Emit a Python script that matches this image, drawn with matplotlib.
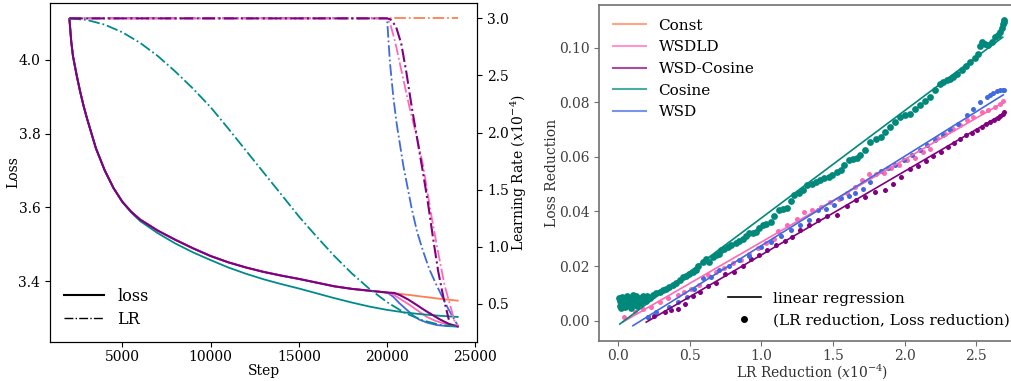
import numpy as np
import matplotlib
matplotlib.use("Agg")
import matplotlib.pyplot as plt
from matplotlib.lines import Line2D

plt.rcParams['font.family'] = 'DejaVu Serif'
plt.rcParams['mathtext.fontset'] = 'dejavuserif'

# colours
c_const = '#ff7f50'
c_wsdld = '#ff69b4'
c_wsdcos = '#800080'
c_cos = '#008b8b'
c_cos_r = '#00897b'
c_wsd = '#4169e1'

# ---------------- left panel data (steps / loss / LR in 1e-4) ----------------
steps_common = [2000, 2100, 2200, 2400, 2600, 2800, 3000, 3500, 4000, 4500, 5000, 5500, 6000,
                7000, 8000, 9000, 10000, 11000, 12000, 13000, 14000, 15000, 16000,
                17000, 18000, 19000, 20000]
loss_common = [4.11, 4.05, 4.01, 3.96, 3.915, 3.875, 3.84, 3.76, 3.70, 3.652, 3.615, 3.588, 3.567,
               3.537, 3.512, 3.489, 3.468, 3.451, 3.437, 3.425, 3.415, 3.406, 3.396,
               3.386, 3.379, 3.374, 3.369]

steps_cos = [2000, 2100, 2200, 2400, 2600, 2800, 3000, 3500, 4000, 4500, 5000, 5500, 6000,
             7000, 8000, 9000, 10000, 11000, 12000, 13000, 14000, 15000, 16000,
             17000, 18000, 19000, 20000, 21000, 22000, 23000, 24000]
loss_cos = [4.11, 4.05, 4.01, 3.96, 3.915, 3.875, 3.84, 3.76, 3.70, 3.652, 3.614, 3.586, 3.563,
            3.530, 3.502, 3.478, 3.457, 3.437, 3.42, 3.405, 3.392, 3.38, 3.367,
            3.354, 3.342, 3.331, 3.322, 3.315, 3.31, 3.306, 3.303]
lr_cos_steps = [2000, 3000, 4000, 5000, 6000, 7000, 8000, 9000, 10000, 11000, 12000, 13000,
                14000, 15000, 16000, 17000, 18000, 19000, 20000, 21000, 22000, 23000, 24000]
lr_cos = [3.0, 2.986, 2.945, 2.878, 2.786, 2.671, 2.534, 2.385, 2.222, 2.035, 1.842, 1.65,
          1.458, 1.265, 1.089, 0.92, 0.766, 0.63, 0.514, 0.42, 0.355, 0.315, 0.3]

const_tail_steps = [21000, 22000, 23000, 24000]
const_tail_loss = [3.364, 3.358, 3.352, 3.347]

wsd_tail_steps = [20340, 20700, 21120, 21500, 21850, 22300, 22810, 23400, 24000]
wsd_tail_loss = [3.358, 3.34, 3.322, 3.306, 3.295, 3.287, 3.281, 3.278, 3.277]
wsd_lr_steps = [20000, 20080, 20170, 20360, 20550, 20920, 21400, 21700, 22040, 22400, 22810,
                23450, 24000]
wsd_lr = [3.0, 2.8, 2.6, 2.3, 2.07, 1.71, 1.33, 1.13, 0.96, 0.8, 0.66, 0.46, 0.31]

wsdld_tail_steps = [20340, 20800, 21290, 21800, 22250, 22700, 23150, 23600, 24000]
wsdld_tail_loss = [3.364, 3.35, 3.335, 3.318, 3.303, 3.293, 3.286, 3.282, 3.279]
wsdld_lr_steps = [20000, 20200, 20450, 20900, 21300, 21700, 22040, 22510, 22880, 23260,
                  23820, 24000]
wsdld_lr = [3.0, 2.94, 2.8, 2.48, 2.2, 1.95, 1.71, 1.27, 0.96, 0.66, 0.35, 0.31]

wsdcos_tail_steps = [20400, 20730, 21200, 21690, 22100, 22580, 23000, 23500, 24000]
wsdcos_tail_loss = [3.368, 3.362, 3.35, 3.335, 3.322, 3.308, 3.296, 3.284, 3.277]
wsdcos_lr_steps = [20000, 20200, 20500, 20800, 21100, 21400, 21700, 22000, 22300, 22600,
                   22900, 23200, 23500]
wsdcos_lr = [3.0, 2.99, 2.93, 2.78, 2.52, 2.22, 1.95, 1.68, 1.40, 1.08, 0.78, 0.55, 0.36]

# ---------------- right panel data (LR reduction / loss reduction) ----------------
cos_x = [0.005, 0.01, 0.015, 0.02, 0.025, 0.03, 0.04, 0.045, 0.05, 0.06, 0.065, 0.07, 0.08,
         0.09, 0.095, 0.1, 0.11, 0.12, 0.125, 0.13, 0.14, 0.15, 0.16, 0.17, 0.18, 0.19, 0.2,
         0.22, 0.24, 0.265, 0.29, 0.311, 0.335, 0.357, 0.38, 0.404, 0.43, 0.45, 0.475, 0.497,
         0.52, 0.543, 0.56, 0.59, 0.61, 0.636, 0.66, 0.68, 0.70, 0.717, 0.74, 0.764, 0.79,
         0.822, 0.845, 0.868, 0.89, 0.914, 0.94, 0.961, 0.985, 1.008, 1.035, 1.065, 1.09,
         1.123, 1.15, 1.182, 1.205, 1.228, 1.262, 1.29, 1.321, 1.356, 1.379, 1.41, 1.437,
         1.47, 1.495, 1.525, 1.553, 1.58, 1.611, 1.64, 1.669, 1.692, 1.727, 1.762, 1.8,
         1.832, 1.865, 1.901, 1.935, 1.971, 2.005, 2.04, 2.075, 2.11, 2.145, 2.18, 2.215,
         2.249, 2.27, 2.296, 2.32, 2.342, 2.37, 2.40, 2.43, 2.458, 2.49, 2.516, 2.53, 2.54,
         2.56, 2.586, 2.61, 2.632, 2.65, 2.667, 2.678, 2.686, 2.692, 2.697]
cos_y = [0.0085, 0.0055, 0.0072, 0.0048, 0.0088, 0.0062, 0.0079, 0.0052, 0.0068, 0.0091,
         0.0058, 0.0075, 0.0084, 0.0047, 0.0069, 0.0093, 0.0061, 0.0078, 0.0089, 0.0055,
         0.0072, 0.0085, 0.0066, 0.0089, 0.0078, 0.0071, 0.0092,
         0.0082, 0.0095, 0.0100, 0.0106, 0.0112, 0.0118, 0.0124, 0.0130, 0.0137, 0.0149,
         0.0161, 0.0165, 0.0173, 0.0178, 0.0185, 0.0200, 0.0216, 0.0226, 0.0215, 0.0232,
         0.0240, 0.0245, 0.0258, 0.0262, 0.0271, 0.0276, 0.0283, 0.0293, 0.0301, 0.0312,
         0.0320, 0.0323, 0.0326, 0.0338, 0.0350, 0.0355, 0.0362, 0.0385, 0.0405, 0.0408,
         0.0411, 0.0438, 0.0459, 0.0466, 0.0480, 0.0496, 0.0500, 0.0508, 0.0515, 0.0521,
         0.0528, 0.0533, 0.0543, 0.0551, 0.0570, 0.0588, 0.0591, 0.0594, 0.0606, 0.0624,
         0.0655, 0.0665, 0.0673, 0.0690, 0.0709, 0.0728, 0.0746, 0.0752, 0.0758, 0.0774,
         0.0789, 0.0804, 0.0819, 0.0845, 0.0868, 0.0874, 0.0880, 0.0886, 0.0892, 0.0905,
         0.0917, 0.0932, 0.0947, 0.0962, 0.0978, 0.1005, 0.1020, 0.1012, 0.1008, 0.1022,
         0.1038, 0.1046, 0.1057, 0.1070, 0.1087, 0.1095, 0.1100]

wsdld_x = [0.04, 0.114, 0.17, 0.23, 0.288, 0.346, 0.42, 0.46, 0.508, 0.566, 0.625, 0.682,
           0.74, 0.799, 0.857, 0.914, 0.973, 1.031, 1.088, 1.116, 1.182, 1.247, 1.297, 1.356,
           1.414, 1.478, 1.541, 1.6, 1.657, 1.70, 1.75, 1.804, 1.855, 1.906, 1.96, 2.017,
           2.075, 2.129, 2.18, 2.23, 2.284, 2.338, 2.389, 2.435, 2.481, 2.54, 2.586, 2.632,
           2.667, 2.685]
wsdld_y = [0.0012, 0.0033, 0.0042, 0.0051, 0.0069, 0.0082, 0.0095, 0.0105, 0.0118, 0.013,
           0.0167, 0.0179, 0.0192, 0.021, 0.0222, 0.0244, 0.0265, 0.0283, 0.0301, 0.0329,
           0.035, 0.0374, 0.0399, 0.0405, 0.0417, 0.0435, 0.0447, 0.0466, 0.0488, 0.0514,
           0.0536, 0.0536, 0.0541, 0.0561, 0.057, 0.0588, 0.0597, 0.0618, 0.063, 0.067,
           0.0685, 0.0703, 0.0716, 0.0734, 0.0746, 0.0764, 0.0773, 0.0782, 0.0795, 0.0804]

wsd_x = [0.207, 0.265, 0.357, 0.416, 0.48, 0.53, 0.59, 0.648, 0.706, 0.775, 0.845, 0.914,
         0.996, 1.065, 1.135, 1.205, 1.27, 1.332, 1.395, 1.449, 1.506, 1.558, 1.61, 1.657,
         1.711, 1.762, 1.832, 1.882, 1.936, 1.994, 2.052, 2.11, 2.157, 2.214, 2.27, 2.319,
         2.377, 2.435, 2.481, 2.528, 2.574, 2.60, 2.621, 2.645, 2.667, 2.685, 2.695]
wsd_y = [0.0012, 0.0033, 0.0049, 0.0069, 0.0088, 0.0115, 0.0155, 0.0161, 0.0185, 0.020,
         0.0222, 0.0237, 0.0271, 0.0289, 0.031, 0.0334, 0.0352, 0.0368, 0.0405, 0.0409,
         0.0425, 0.0449, 0.0458, 0.0466, 0.0484, 0.0508, 0.0548, 0.0561, 0.0569, 0.0588,
         0.0606, 0.0624, 0.0642, 0.0663, 0.068, 0.0697, 0.0722, 0.0752, 0.0776, 0.0801,
         0.0819, 0.0827, 0.0834, 0.0840, 0.0844, 0.0845, 0.0846]

wsdcos_x = [0.207, 0.249, 0.323, 0.369, 0.416, 0.467, 0.52, 0.574, 0.63, 0.683, 0.748, 0.81,
            0.868, 0.926, 0.984, 1.042, 1.105, 1.163, 1.216, 1.27, 1.33, 1.395, 1.455, 1.53,
            1.6, 1.664, 1.727, 1.792, 1.86, 1.92, 1.976, 2.035, 2.095, 2.152, 2.2, 2.254,
            2.303, 2.347, 2.389, 2.43, 2.47, 2.505, 2.54, 2.57, 2.597, 2.625, 2.65, 2.667,
            2.686, 2.695]
wsdcos_y = [0.0015, 0.0017, 0.0033, 0.0039, 0.0042, 0.0061, 0.009, 0.0106, 0.0128, 0.0137,
            0.017, 0.0177, 0.02, 0.0227, 0.024, 0.0258, 0.0279, 0.0291, 0.0305, 0.0334,
            0.035, 0.037, 0.0384, 0.0386, 0.0419, 0.0441, 0.0453, 0.0472, 0.0478, 0.0502,
            0.0527, 0.0557, 0.0565, 0.0585, 0.0602, 0.0618, 0.0636, 0.0651, 0.0667, 0.0679,
            0.0687, 0.0697, 0.0709, 0.0722, 0.0728, 0.0734, 0.0744, 0.0748, 0.0758, 0.0763]

# regression line end points (x0, x1), (y0, y1)
reg_cos = ([0.01, 2.686], [-0.0012, 0.1038])
reg_wsdld = ([0.033, 2.68], [-0.0004, 0.0796])
reg_wsd = ([0.102, 2.69], [-0.0018, 0.0827])
reg_wsdcos = ([0.195, 2.69], [-0.0005, 0.0758])

fig = plt.figure(figsize=(10.11, 3.81), dpi=100)

# ---------------- left panel ----------------
ax = fig.add_axes([0.0495, 0.1024, 0.4224, 0.8898])
ax2 = ax.twinx()

lw = 1.3
ax.plot(steps_common + const_tail_steps, loss_common + const_tail_loss, color=c_const, lw=lw)
ax.plot(steps_common + wsd_tail_steps, loss_common + wsd_tail_loss, color=c_wsd, lw=lw)
ax.plot(steps_common + wsdld_tail_steps, loss_common + wsdld_tail_loss, color=c_wsdld, lw=lw)
ax.plot(steps_cos, loss_cos, color=c_cos, lw=lw)
ax.plot(steps_common + wsdcos_tail_steps, loss_common + wsdcos_tail_loss, color=c_wsdcos, lw=1.5)

ax2.plot([2000, 24000], [3.0, 3.0], color=c_const, lw=lw, ls='-.')
ax2.plot([2000] + wsd_lr_steps, [3.0] + wsd_lr, color=c_wsd, lw=lw, ls='-.')
ax2.plot([2000] + wsdld_lr_steps, [3.0] + wsdld_lr, color=c_wsdld, lw=lw, ls='-.')
ax2.plot(lr_cos_steps, lr_cos, color=c_cos, lw=lw, ls='-.')
ax2.plot([2000] + wsdcos_lr_steps, [3.0] + wsdcos_lr, color=c_wsdcos, lw=1.5, ls='-.')

ax.set_xlim(900, 25100)
ax.set_ylim(3.235, 4.154)
ax2.set_ylim(0.165, 3.135)
ax.set_yticks([3.4, 3.6, 3.8, 4.0])
ax.set_xticks([5000, 10000, 15000, 20000, 25000])
ax.tick_params(labelsize=10)
ax2.tick_params(labelsize=10)
ax.tick_params(axis='x', pad=2.5)
ax.set_xlabel('Step', fontsize=10, labelpad=0)
ax.set_ylabel('Loss', fontsize=10, labelpad=-1)
ax2.set_ylabel('Learning Rate ($x10^{-4}$)', fontsize=10, labelpad=0)

leg_handles = [Line2D([], [], color='black', lw=1.5, ls='-'),
               Line2D([], [], color='black', lw=1.0, ls='-.')]
ax2.legend(leg_handles, ['loss', 'LR'], loc='lower left', frameon=False, fontsize=11.5,
           labelspacing=0.35, handlelength=2.5)

# ---------------- right panel ----------------
bx = fig.add_axes([0.5925, 0.105, 0.4204, 0.882])
for sp in bx.spines.values():
    sp.set_color('#707070')
    sp.set_linewidth(1.2)
bx.tick_params(colors='#404040', labelsize=10)
bx.tick_params(axis='both', color='#707070')
bx.tick_params(axis='x', pad=2.5)

bx.scatter(wsdld_x, wsdld_y, s=13, color=c_wsdld, zorder=3, linewidths=0)
bx.scatter(wsdcos_x, wsdcos_y, s=13, color=c_wsdcos, zorder=3, linewidths=0)
bx.scatter(cos_x, cos_y, s=24, color=c_cos_r, zorder=3, linewidths=0)
bx.scatter(wsd_x, wsd_y, s=13, color=c_wsd, zorder=3, linewidths=0)

bx.plot(reg_wsdld[0], reg_wsdld[1], color=c_wsdld, lw=1.2, zorder=4)
bx.plot(reg_wsdcos[0], reg_wsdcos[1], color=c_wsdcos, lw=1.2, zorder=4)
bx.plot(reg_cos[0], reg_cos[1], color=c_cos_r, lw=1.2, zorder=4)
bx.plot(reg_wsd[0], reg_wsd[1], color=c_wsd, lw=1.2, zorder=4)

bx.set_xlim(-0.135, 2.835)
bx.set_ylim(-0.0074, 0.1156)
bx.set_xticks([0.0, 0.5, 1.0, 1.5, 2.0, 2.5])
bx.set_yticks([0.0, 0.02, 0.04, 0.06, 0.08, 0.10])
bx.set_yticklabels(['0.00', '0.02', '0.04', '0.06', '0.08', '0.10'])
bx.set_xlabel('LR Reduction ($x10^{-4}$)', fontsize=10, labelpad=-1, color='#303030')
bx.set_ylabel('Loss Reduction', fontsize=10, labelpad=0, color='#303030')

names = ['Const', 'WSDLD', 'WSD-Cosine', 'Cosine', 'WSD']
cols = [c_const, c_wsdld, c_wsdcos, c_cos_r, c_wsd]
h1 = [Line2D([], [], color=c, lw=1.5, alpha=0.7) for c in cols]
leg1 = bx.legend(h1, names, loc='upper left', frameon=False, fontsize=11,
                 labelspacing=0.5, handlelength=2.2)
bx.add_artist(leg1)
h2 = [Line2D([], [], color='black', lw=1.2),
      Line2D([], [], color='black', ls='none', marker='o', markersize=4)]
bx.legend(h2, ['linear regression', '(LR reduction, Loss reduction)'], loc='lower right',
          frameon=False, fontsize=11, labelspacing=0.5, handlelength=2.2)

fig.savefig('out.png', dpi=100)
